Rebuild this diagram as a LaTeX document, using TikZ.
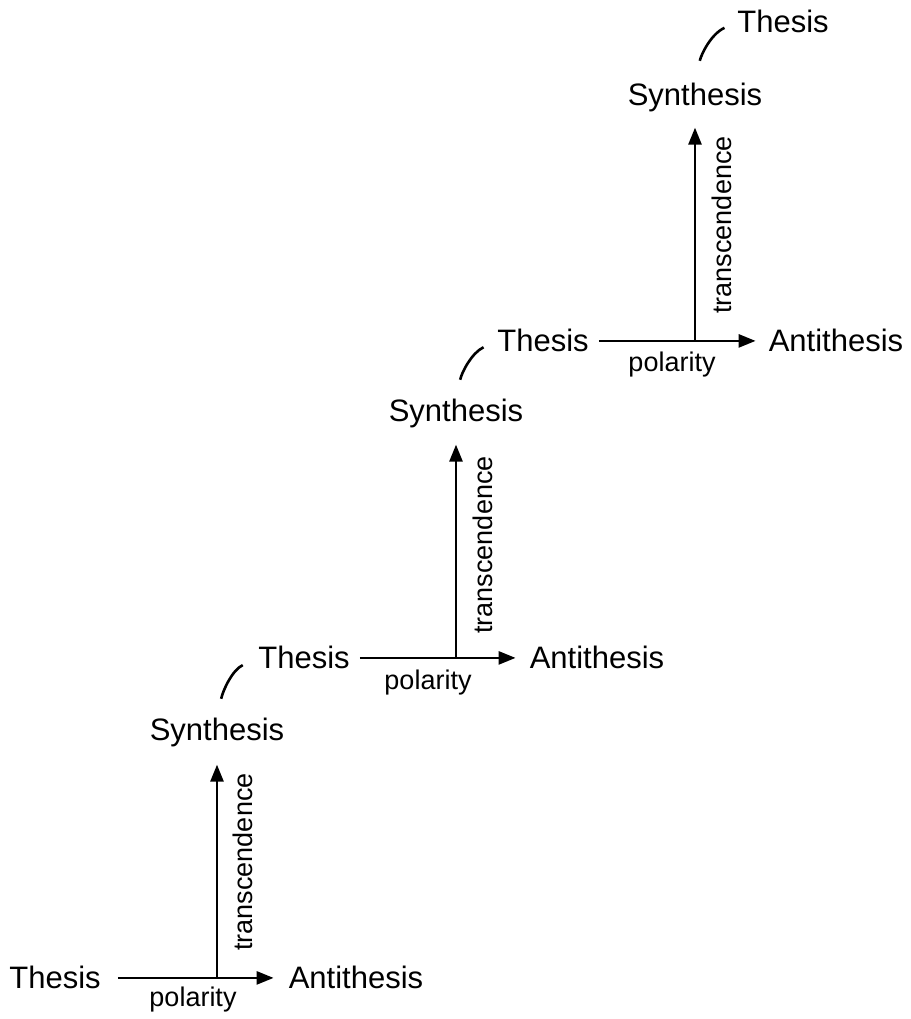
\documentclass[tikz,border=0pt]{standalone}
\usepackage{fontspec}
\setmainfont{Liberation Sans}
\usetikzlibrary{arrows.meta}
\tikzset{
  big/.style={inner sep=0pt, anchor=base, font=\fontsize{31}{31}\selectfont},
  small/.style={inner sep=0pt, font=\fontsize{27}{27}\selectfont},
  arr/.style={line width=2.6pt, -{Triangle[length=17pt,width=13pt]}},
  hook/.style={line width=2.6pt, out=78, in=205},
}
\begin{document}
\begin{tikzpicture}[x=1pt,y=1pt]
\useasboundingbox (0,0) rectangle (910,1019);
% level 1
\node[big] (t1) at (55,30) {Thesis};
\node[big] (a1) at (356,30) {Antithesis};
\node[small] (p1) at (193,19) {polarity};
\node[big] (s1) at (217,278) {Synthesis};
\node[small, rotate=90] (r1) at (243,157) {transcendence};
\coordinate (f1) at (217,41);
% level 2
\node[big] (t2) at (304,350) {Thesis};
\node[big] (a2) at (597,350) {Antithesis};
\node[small] (p2) at (428,336) {polarity};
\node[big] (s2) at (456,597) {Synthesis};
\node[small, rotate=90] (r2) at (483,474) {transcendence};
\coordinate (f2) at (456,361);
% level 3
\node[big] (t3) at (543,667) {Thesis};
\node[big] (a3) at (836,667) {Antithesis};
\node[small] (p3) at (672,654) {polarity};
\node[big] (s3) at (695,913) {Synthesis};
\node[small, rotate=90] (r3) at (722,794) {transcendence};
\coordinate (f3) at (695,678);
% level 4
\node[big] (t4) at (783,986) {Thesis};
% horizontal arrows
\draw[arr, shorten <=17pt, shorten >=15pt] (t1) -- (a1);
\draw[arr, shorten <=10pt, shorten >=14pt] (t2) -- (a2);
\draw[arr, shorten <=10pt, shorten >=13pt] (t3) -- (a3);
% vertical arrows
\draw[arr, shorten >=17pt] (f1) -- (s1.south);
\draw[arr, shorten >=16pt] (f2) -- (s2.south);
\draw[arr, shorten >=15pt] (f3) -- (s3.south);
% curves
\draw[hook, shorten <=20pt, shorten >=17pt] (s1.north) to (t2.west);
\draw[hook, shorten <=20pt, shorten >=15pt] (s2.north) to (t3.west);
\draw[hook, shorten <=23pt, shorten >=14pt] (s3.north) to (t4.west);
\end{tikzpicture}
\end{document}
